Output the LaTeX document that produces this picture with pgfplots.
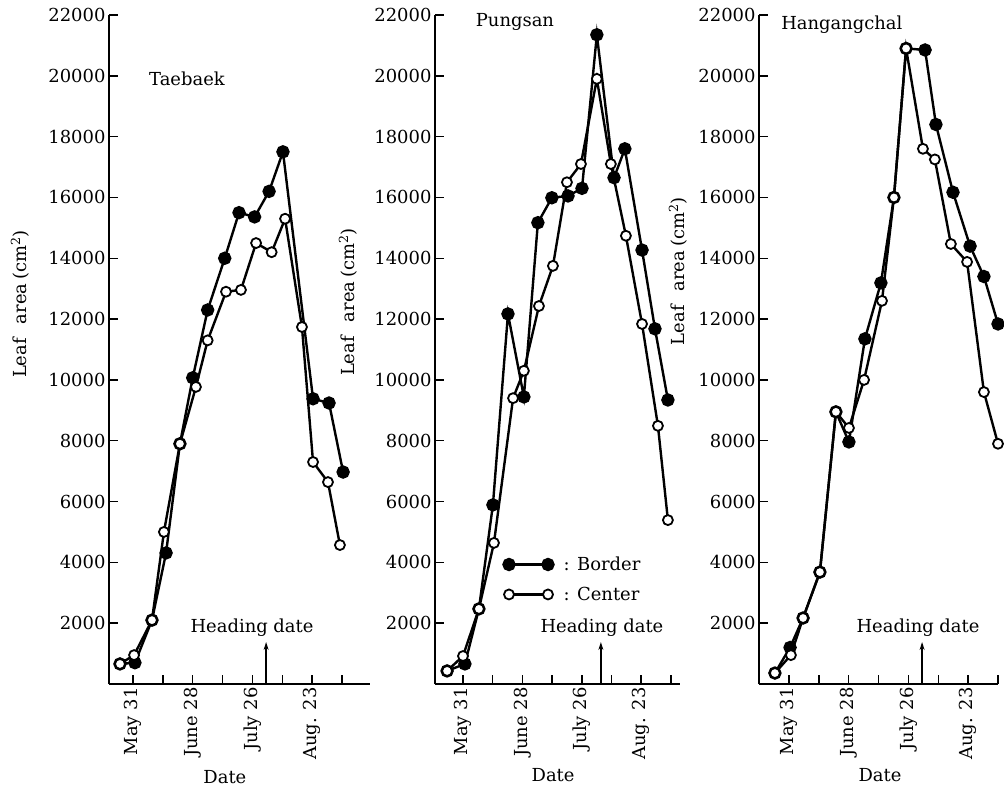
\documentclass[border=0pt]{standalone}
\usepackage{fontspec}
\setmainfont{DejaVu Serif}
\usepackage{pgfplots}
\pgfplotsset{compat=1.18}
\usetikzlibrary{arrows.meta}
\newcommand{\ff}{\fontsize{18}{20}\selectfont}
\newcommand{\ylab}{Leaf\hspace{14bp}area\hspace{4bp}(cm\textsuperscript{2})}
\begin{document}
\begin{tikzpicture}
\useasboundingbox (0,0) rectangle (1004bp,793bp);
\pgfplotsset{
  panel/.style={
    scale only axis, height=669bp, ymin=0, ymax=22000,
    axis x line*=bottom, axis y line*=left,
    axis line style={line width=1.8bp, -},
    tick align=inside, major tick length=9bp,
    tick style={line width=1.5bp, black},
    ytick={2000,4000,...,22000},
    xtick={0,14,...,98},
    xticklabels={May 31,,June 28,,July 26,,Aug. 23,},
    scaled y ticks=false,
    /pgf/number format/1000 sep={},
    /pgf/number format/assume math mode=true,
    tick label style={font=\ff},
    xticklabel style={rotate=90, anchor=east},
    every axis y label/.style={rotate=90, anchor=center, font=\ff},
    every axis x label/.style={anchor=center, font=\ff},
    clip=false,
  },
  bordS/.style={black, line width=2.4bp, mark=*, mark size=5.5bp, mark options={solid, fill=black}},
  centS/.style={black, line width=2.4bp, mark=*, mark size=5bp, mark options={solid, fill=white, line width=1.8bp}},
}
% ---------------- Panel 1: Taebaek
\begin{axis}[panel, at={(109bp,109bp)}, anchor=south west, width=261bp,
  xmin=-11.25, xmax=111.1,
  ylabel={\ylab},
  ylabel style={at={(axis description cs:0,0.568)}, yshift=89bp, font=\ff},
  xlabel={Date},
  xlabel style={at={(axis description cs:0.444,0)}, yshift=-93bp, font=\ff}]
\addplot[bordS] coordinates {(-6.1,660) (0.9,700) (8.9,2100) (15.5,4310) (22,7900) (28,10070) (35,12300) (43,14000) (49.7,15500) (57,15360) (63.8,16200) (70.3,17500) (84.4,9380) (91.9,9240) (98.5,6970)};
\addplot[centS] coordinates {(-6.1,660) (0.5,950) (8.9,2100) (14.5,5000) (22,7900) (29.5,9770) (35,11300) (43.6,12900) (50.6,12960) (57.7,14500) (65,14200) (71.3,15300) (79.2,11740) (84.4,7300) (91.4,6640) (97,4570)};
\node[font=\ff] at (axis cs:25.3,19900) {Taebaek};
\node[font=\ff] at (axis cs:55.8,1850) {Heading date};
\draw[-{Stealth[length=8bp,width=5bp]}, line width=1.3bp] (axis cs:62.4,0) -- (axis cs:62.4,1380);
\end{axis}
% ---------------- Panel 2: Pungsan
\begin{axis}[panel, at={(435bp,109bp)}, anchor=south west, width=245bp,
  xmin=-13.2, xmax=102.3,
  ylabel={\ylab},
  ylabel style={at={(axis description cs:0,0.571)}, yshift=87bp, font=\ff},
  xlabel={Date},
  xlabel style={at={(axis description cs:0.482,0)}, yshift=-91bp, font=\ff},
  legend style={at={(axis cs:19,4250)}, anchor=north west, draw=none, fill=none,
    font=\ff, row sep=11bp, inner sep=0pt},
  legend cell align=left,
  legend image code/.code={\draw[#1] plot coordinates {(0bp,0bp) (39bp,0bp)};}]
\addplot[bordS] coordinates {(-7.5,430) (0.9,660) (7.5,2470) (14.1,5890) (21.2,12170) (28.7,9440) (35.3,15170) (41.9,15990) (49.5,16050) (56.1,16300) (63.1,21350) (71.2,16650) (76.3,17600) (84.4,14270) (90.5,11680) (96.6,9340)};
\addlegendentry{\hspace{8bp}: Border}
\addplot[centS] coordinates {(-7.5,430) (0,920) (7.5,2470) (14.6,4640) (23.6,9400) (28.7,10300) (35.8,12430) (42.4,13750) (49,16500) (55.6,17100) (63.1,19900) (69.7,17100) (76.8,14740) (84.4,11840) (91.9,8490) (96.6,5390)};
\addlegendentry{\hspace{8bp}: Center}
\node[font=\ff] at (axis cs:24.5,21780) {Pungsan};
\node[font=\ff] at (axis cs:65.5,1850) {Heading date};
\draw[-{Stealth[length=8bp,width=5bp]}, line width=1.3bp] (axis cs:65,0) -- (axis cs:65,1380);
\end{axis}
% ---------------- Panel 3: Hangangchal
\begin{axis}[panel, at={(759bp,109bp)}, anchor=south west, width=239bp,
  xmin=-14.06, xmax=98,
  ylabel={\ylab},
  ylabel style={at={(axis description cs:0,0.617)}, yshift=81bp, font=\ff},
  xlabel={Date},
  xlabel style={at={(axis description cs:0.506,0)}, yshift=-91bp, font=\ff}]
\addplot[bordS] coordinates {(-6.6,360) (0.5,1200) (6.6,2170) (14.5,3680) (22,8950) (28.1,7960) (35.6,11350) (43.1,13190) (49.2,16000) (54.9,20900) (63.8,20850) (68.9,18400) (76.9,16170) (84.9,14400) (91.4,13400) (98,11840)};
\addplot[centS] coordinates {(-6.6,360) (0.9,950) (6.6,2170) (14.5,3680) (22,8950) (28.1,8420) (35.2,10000) (43.6,12600) (49.2,16000) (54.9,20900) (62.8,17600) (68.4,17250) (75.9,14470) (83.5,13880) (91.4,9600) (98,7900)};
\node[font=\ff] at (axis cs:24.8,21680) {Hangangchal};
\node[font=\ff] at (axis cs:60.5,1850) {Heading date};
\draw[-{Stealth[length=8bp,width=5bp]}, line width=1.3bp] (axis cs:62.4,0) -- (axis cs:62.4,1380);
\end{axis}
\end{tikzpicture}
\end{document}
